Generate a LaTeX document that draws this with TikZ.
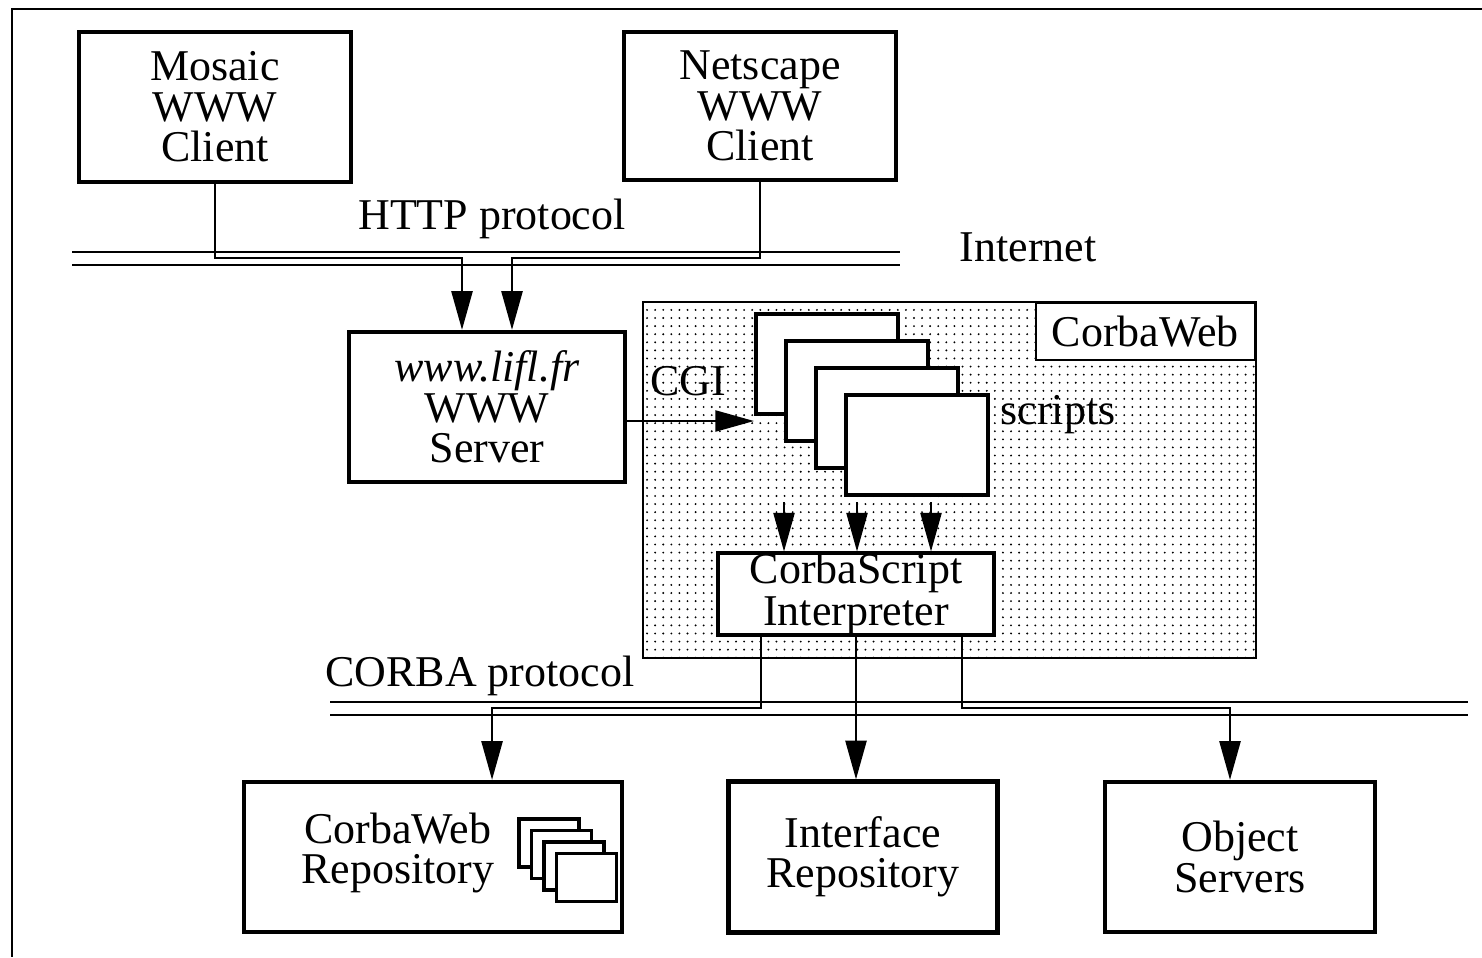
\documentclass[tikz,border=0pt]{standalone}
\usepackage{fontspec}
\setmainfont{Liberation Serif}
\usetikzlibrary{arrows.meta,patterns.meta}

\tikzset{
  box/.style={draw, line width=1.2pt, fill=white, align=center, inner sep=0pt},
  sheet/.style={draw, line width=1.2pt, fill=white, inner sep=0pt, anchor=north west},
  wire/.style={line width=0.6pt},
  arrow/.style={wire, -{Triangle[width=6pt,length=11pt]}},
  bus/.style={line width=0.6pt},
}

\begin{document}
\begin{tikzpicture}[x=0.01cm, y=-0.01cm, font=\fontsize{12.5}{11.5}\selectfont]
    \useasboundingbox (0,0) rectangle (1482,957);
    % Frame, cut at the right and bottom
    \draw[wire] (1482,9) -- (12,9) -- (12,957);

    % Web clients
    \node[box, minimum width=2.72cm, minimum height=1.5cm] (mosaic) at (215,107) {Mosaic\\WWW\\Client};
    \node[box, minimum width=2.72cm, minimum height=1.48cm] (netscape) at (760,106) {Netscape\\WWW\\Client};

    % Internet bus
    \draw[bus] (72,252) -- (900,252);
    \draw[bus] (72,265) -- (900,265);
    \node (http) at (492,219) {HTTP protocol};
    \node (internet) at (1028,247) {Internet};

    % Web server
    \node[box, minimum width=2.76cm, minimum height=1.5cm] (server) at (487,407) {\textit{www.lifl.fr}\\WWW\\Server};
    \coordinate (j1) at (462,258);
    \coordinate (j2) at (512,258);
    \draw[arrow] (mosaic.south) |- (j1) -- (j1 |- server.north);
    \draw[arrow] (netscape.south) |- (j2) -- (j2 |- server.north);

    % CorbaWeb area
    \draw[wire, pattern={Dots[distance=2.3pt, radius=0.3pt]}] (643,302) rectangle (1256,658);
    \node[draw, line width=0.6pt, fill=white, minimum width=2.19cm, minimum height=0.57cm, anchor=north east] (corbaweb) at (1256,302) {CorbaWeb};

    % Scripts
    \foreach \i in {0,...,3} {
        \node[sheet, minimum width=1.42cm, minimum height=1cm] (s\i) at ({754+30*\i},{312+27*\i}) {};
    }
    \node (scripts) at (1058,415) {scripts};
    \node (cgi) at (688,381) {CGI};
    \draw[arrow] ([yshift=-0.14cm]server.east) -- ([yshift=-0.14cm]server.east -| s0.west);

    % Interpreter
    \node[box, line width=1pt, minimum width=2.76cm, minimum height=0.75cm, font=\fontsize{12.5}{7.5}\selectfont] (interp) at (856,594) {CorbaScript\\Interpreter};
    \coordinate (sb) at ([yshift=-0.05cm]s3.south);
    \foreach \x in {784,857,931} {
        \draw[arrow] (sb -| \x,0) -- (interp.north -| \x,0);
    }

    % CORBA bus
    \draw[bus] (330,702) -- (1468,702);
    \draw[bus] (330,715) -- (1468,715);
    \node (corba) at (480,676) {CORBA protocol};

    % Servers
    \node[box, minimum width=3.78cm, minimum height=1.5cm] (cwrepo) at (433,857) {};
    \node[align=center] (cwrepotext) at (398,853) {CorbaWeb\\Repository};
    \foreach \i in {0,...,3} {
        \node[sheet, line width=1pt, minimum width=0.6cm, minimum height=0.48cm] (r\i) at ({517+12.5*\i},{817+11.5*\i}) {};
    }
    \node[box, minimum width=2.69cm, minimum height=1.51cm] (ifrepo) at (863,857) {Interface\\Repository};
    \node[box, minimum width=2.7cm, minimum height=1.5cm] (objsrv) at (1240,857) {Object\\Servers};

    \coordinate (k1) at (761,708);
    \coordinate (k3) at (962,708);
    \draw[arrow] (interp.south -| k1) -- (k1) -| ([xshift=0.59cm]cwrepo.north);
    \draw[arrow] (interp.south) -- (interp.south |- ifrepo.north);
    \draw[arrow] (interp.south -| k3) -- (k3) -| ([xshift=-0.1cm]objsrv.north);
\end{tikzpicture}
\end{document}
